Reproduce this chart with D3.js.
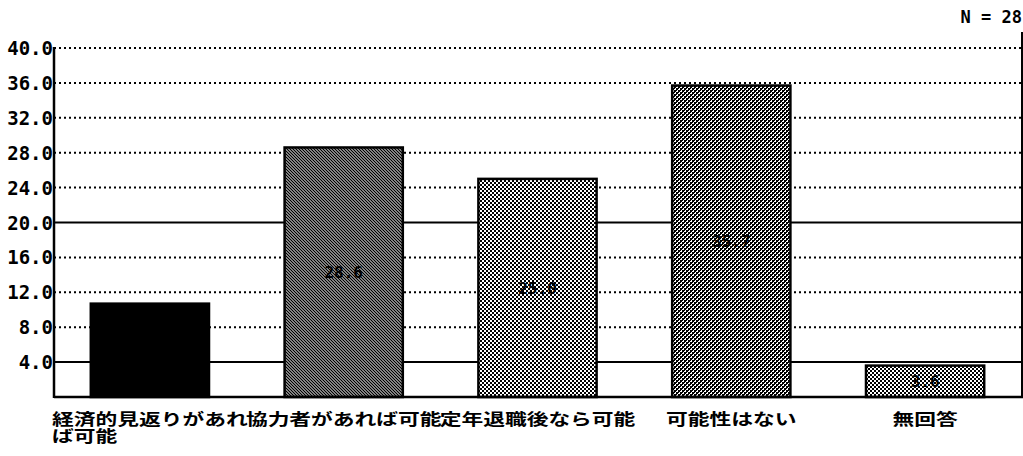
<!DOCTYPE html>
<html>
<head>
<meta charset="utf-8">
<script src="https://cdn.jsdelivr.net/npm/d3@7"></script>
<style>
  body { margin: 0; background: #fff; }
  svg { display: block; }
</style>
</head>
<body>
<svg></svg>
<script>
const categories = ['経済的見返りがあれば可能', '協力者があれば可能', '定年退職後なら可能', '可能性はない', '無回答']
const values = [10.7, 28.6, 25.0, 35.7, 3.6]
const fills = ['#000', 'url(#hatch)', 'url(#checkLight)', 'url(#checkDark)', 'url(#checkMid)']
const yTicks = [4, 8, 12, 16, 20, 24, 28, 32, 36, 40]
const solidTicks = [4, 20]
const sampleNote = 'N = 28'
// label 1 wraps after 9 characters in the original
const labelLines = [['経済的見返りがあれ', 'ば可能'], ['協力者があれば可能'], ['定年退職後なら可能'], ['可能性はない'], ['無回答']]

const width = 1023,
    height = 456
const mLeft = 54,
    mRight = 1022,
    mTop = 48,
    mBottom = 397

const svg = d3.select('svg').attr('width', width).attr('height', height)

// dithered fills like the print
const defs = svg.append('defs')
const hatch = defs.append('pattern').attr('id', 'hatch')
    .attr('width', 3).attr('height', 3).attr('patternUnits', 'userSpaceOnUse')
hatch.append('rect').attr('width', 3).attr('height', 3).attr('fill', '#fff')
hatch.append('path').attr('d', 'M-1,-1 L4,4 M-1,2 L1,4 M2,-1 L4,1')
    .attr('stroke', '#000').attr('stroke-width', 1.4)

function checker(id, dark) {
    const p = defs.append('pattern').attr('id', id)
        .attr('width', 4).attr('height', 4).attr('patternUnits', 'userSpaceOnUse')
    p.append('rect').attr('width', 4).attr('height', 4).attr('fill', '#fff')
    p.append('rect').attr('x', 0).attr('y', 0).attr('width', 2).attr('height', 2).attr('fill', '#000')
    p.append('rect').attr('x', 2).attr('y', 2).attr('width', 2).attr('height', 2).attr('fill', '#000')
    if (dark) {
        p.append('rect').attr('x', 2).attr('y', 0).attr('width', 1).attr('height', 1).attr('fill', '#000')
        p.append('rect').attr('x', 0).attr('y', 2).attr('width', 1).attr('height', 1).attr('fill', '#000')
    }
}
checker('checkLight', false)
checker('checkDark', true)
checker('checkMid', false)

const x = d3.scaleBand().domain(categories).range([mLeft - 1, mRight]).padding(0)
const y = d3.scaleLinear().domain([0, 40]).range([mBottom, mTop])
const barW = x.bandwidth() * 0.61

// grid lines
svg.append('g')
    .selectAll('line')
    .data(yTicks)
    .join('line')
    .attr('x1', mLeft)
    .attr('x2', mRight)
    .attr('y1', (d) => y(d))
    .attr('y2', (d) => y(d))
    .attr('stroke', '#000')
    .attr('stroke-width', 2)
    .attr('stroke-dasharray', (d) => (solidTicks.includes(d) ? null : '2,3'))

// bars
svg.append('g')
    .selectAll('rect')
    .data(values)
    .join('rect')
    .attr('x', (d, i) => x(categories[i]) + (x.bandwidth() - barW) / 2)
    .attr('y', (d) => y(d))
    .attr('width', barW)
    .attr('height', (d) => y(0) - y(d))
    .attr('fill', (d, i) => fills[i])
    .attr('stroke', '#000')
    .attr('stroke-width', 2.5)

// value labels in the middle of the bars
svg.append('g')
    .selectAll('text')
    .data(values)
    .join('text')
    .attr('x', (d, i) => x(categories[i]) + x.bandwidth() / 2)
    .attr('y', (d) => (y(d) + y(0)) / 2 + 6)
    .attr('text-anchor', 'middle')
    .attr('font-family', 'DejaVu Sans Mono, monospace')
    .attr('font-weight', 'bold')
    .attr('font-size', 16)
    .attr('fill', '#000')
    .text((d) => d3.format('.1f')(d))

// axes frame
svg.append('line').attr('x1', mLeft).attr('x2', mLeft).attr('y1', mTop - 1).attr('y2', mBottom + 1)
    .attr('stroke', '#000').attr('stroke-width', 2.5)
svg.append('line').attr('x1', mLeft).attr('x2', mRight + 1).attr('y1', mBottom).attr('y2', mBottom)
    .attr('stroke', '#000').attr('stroke-width', 2.5)
svg.append('line').attr('x1', mRight).attr('x2', mRight).attr('y1', mTop - 16).attr('y2', mBottom)
    .attr('stroke', '#000').attr('stroke-width', 2)

// y tick labels
svg.append('g')
    .selectAll('text')
    .data(yTicks)
    .join('text')
    .attr('x', mLeft - 1)
    .attr('y', (d) => y(d) + 7)
    .attr('text-anchor', 'end')
    .attr('font-family', 'DejaVu Sans Mono, monospace')
    .attr('font-weight', 'bold')
    .attr('font-size', 19)
    .attr('fill', '#000')
    .text((d) => d3.format('.1f')(d))

// category labels, centred on each band and allowed to overflow
const cat = svg.append('g')
    .selectAll('text')
    .data(labelLines)
    .join('text')
    .attr('transform', (d, i) => `translate(${x(categories[i]) + x.bandwidth() / 2},425) scale(1.36,1)`)
    .attr('text-anchor', 'middle')
    .attr('font-family', 'Noto Sans CJK JP, sans-serif')
    .attr('font-weight', 'bold')
    .attr('font-size', 16)
    .attr('fill', '#000')
cat.selectAll('tspan')
    .data((d) => d)
    .join('tspan')
    .attr('x', 0)
    .attr('dy', (d, i) => (i ? 16.5 : 0))
    .attr('text-anchor', (d, i, n) => (n.length > 1 && i > 0 ? 'start' : 'middle'))
    .text((d) => d)

// second line of the first label starts at the left edge of line one
cat.filter((d) => d.length > 1).selectAll('tspan')
    .filter((d, i) => i > 0)
    .attr('x', function () {
        const first = this.parentNode.firstChild.getComputedTextLength()
        return -first / 2
    })

svg.append('text')
    .attr('x', mRight)
    .attr('y', 23)
    .attr('text-anchor', 'end')
    .attr('font-family', 'DejaVu Sans Mono, monospace')
    .attr('font-weight', 'bold')
    .attr('font-size', 17)
    .text(sampleNote)
</script>
</body>
</html>
